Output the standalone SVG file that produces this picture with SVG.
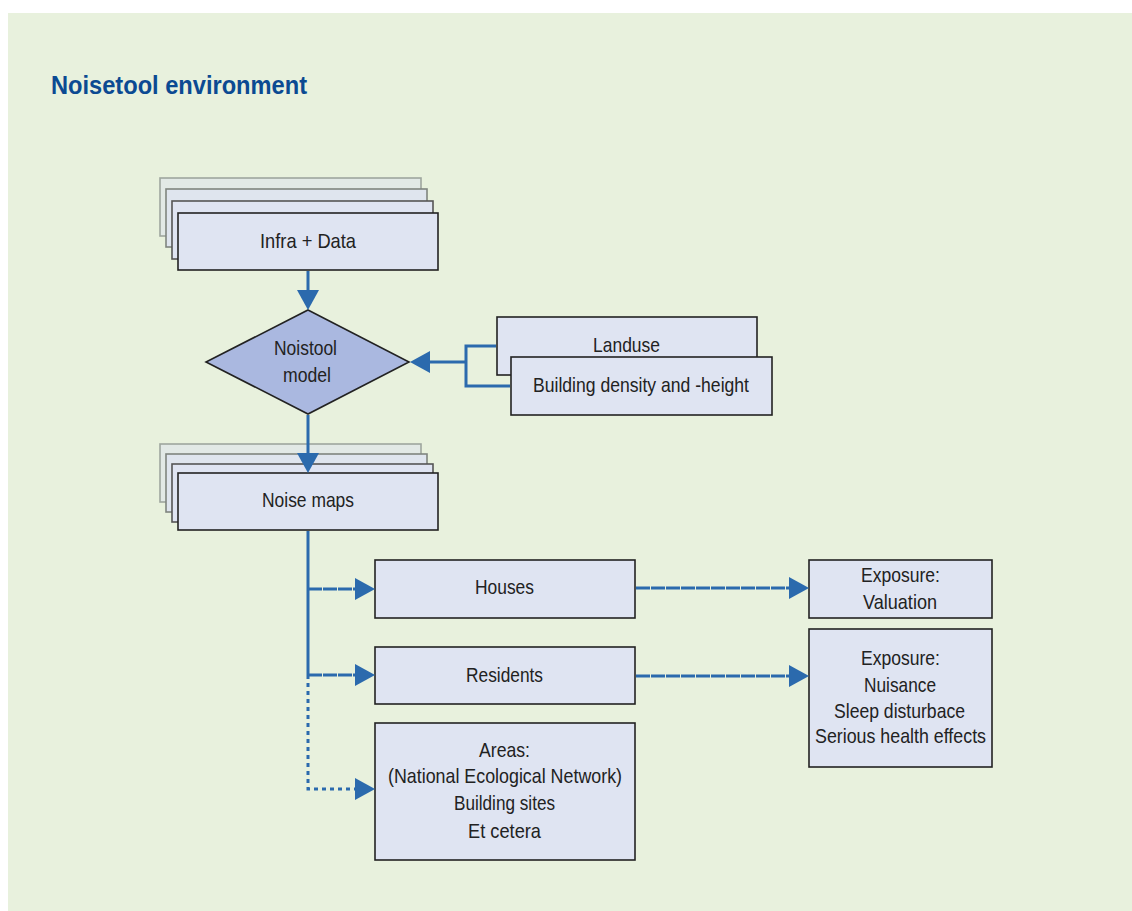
<svg xmlns="http://www.w3.org/2000/svg" width="1132" height="911" viewBox="0 0 1132 911">
<defs>
<style>
.bg{fill:#e8f1dd}
.box{fill:#dfe4f2;stroke:#222;stroke-width:1.6}
.b1{fill:#e2e9e6;stroke:#9ea69e;stroke-width:1.6}
.b2{fill:#dfe5ee;stroke:#7f857f;stroke-width:1.6}
.b3{fill:#dfe4f2;stroke:#555;stroke-width:1.6}
.dia{fill:#aab8e0;stroke:#222;stroke-width:1.6}
.t{font-family:"Liberation Sans",Arial,sans-serif;font-size:21px;fill:#222;text-anchor:middle}
.title{font-family:"Liberation Sans",Arial,sans-serif;font-size:26px;font-weight:bold;fill:#0b4a92}
.c{fill:none;stroke:#2b6aad;stroke-width:3}
.dash{stroke-dasharray:14 1}
.dot{stroke-dasharray:4 4}
</style>
<marker id="ah" viewBox="0 0 20 22" refX="0" refY="11" markerWidth="20" markerHeight="22" markerUnits="userSpaceOnUse" orient="auto">
<path d="M0,0 L20,11 L0,22 Z" fill="#2b6aad"/>
</marker>
</defs>
<rect class="bg" x="8" y="13" width="1124" height="898"/>
<text class="title" x="51" y="94" textLength="256" lengthAdjust="spacingAndGlyphs">Noisetool environment</text>

<g id="infra-data">
<rect class="b1" x="160" y="178" width="261" height="58"/>
<rect class="b2" x="166" y="189" width="261" height="58"/>
<rect class="b3" x="172" y="201" width="261" height="58"/>
<rect class="box" x="178" y="213" width="260" height="57"/>
<text class="t" x="308" y="248" textLength="96" lengthAdjust="spacingAndGlyphs">Infra + Data</text>
</g>

<g id="noistool-model">
<polygon class="dia" points="308,310 409,362 308,414 206,362"/>
<text class="t" x="305.5" y="355" textLength="63" lengthAdjust="spacingAndGlyphs">Noistool</text>
<text class="t" x="307" y="382" textLength="48" lengthAdjust="spacingAndGlyphs">model</text>
</g>

<g id="landuse">
<rect class="box" x="497" y="317" width="260" height="58"/>
<text class="t" x="626.5" y="352" textLength="67" lengthAdjust="spacingAndGlyphs">Landuse</text>
</g>

<g id="building-density">
<rect class="box" x="511" y="357" width="261" height="58"/>
<text class="t" x="641" y="392" textLength="216" lengthAdjust="spacingAndGlyphs">Building density and -height</text>
</g>

<g id="noise-maps">
<rect class="b1" x="160" y="444" width="261" height="58"/>
<rect class="b2" x="166" y="454" width="261" height="58"/>
<rect class="b3" x="172" y="464" width="261" height="58"/>
<rect class="box" x="178" y="473" width="260" height="57"/>
<text class="t" x="308" y="507" textLength="92" lengthAdjust="spacingAndGlyphs">Noise maps</text>
</g>

<g id="houses">
<rect class="box" x="375" y="560" width="260" height="58"/>
<text class="t" x="504.5" y="594" textLength="59" lengthAdjust="spacingAndGlyphs">Houses</text>
</g>

<g id="residents">
<rect class="box" x="375" y="647" width="260" height="57"/>
<text class="t" x="504.5" y="682" textLength="77" lengthAdjust="spacingAndGlyphs">Residents</text>
</g>

<g id="areas">
<rect class="box" x="375" y="723" width="260" height="137"/>
<text class="t" x="504.5" y="757" textLength="51" lengthAdjust="spacingAndGlyphs">Areas:</text>
<text class="t" x="505" y="783" textLength="234" lengthAdjust="spacingAndGlyphs">(National Ecological Network)</text>
<text class="t" x="504.5" y="810" textLength="101" lengthAdjust="spacingAndGlyphs">Building sites</text>
<text class="t" x="504.5" y="838" textLength="73" lengthAdjust="spacingAndGlyphs">Et cetera</text>
</g>

<g id="exposure-valuation">
<rect class="box" x="809" y="560" width="183" height="58"/>
<text class="t" x="900.5" y="582" textLength="79" lengthAdjust="spacingAndGlyphs">Exposure:</text>
<text class="t" x="900" y="609" textLength="74" lengthAdjust="spacingAndGlyphs">Valuation</text>
</g>

<g id="exposure-nuisance">
<rect class="box" x="809" y="629" width="183" height="138"/>
<text class="t" x="900.5" y="665" textLength="79" lengthAdjust="spacingAndGlyphs">Exposure:</text>
<text class="t" x="900" y="692" textLength="72" lengthAdjust="spacingAndGlyphs">Nuisance</text>
<text class="t" x="899.5" y="718" textLength="131" lengthAdjust="spacingAndGlyphs">Sleep disturbace</text>
<text class="t" x="900.5" y="743" textLength="171" lengthAdjust="spacingAndGlyphs">Serious health effects</text>
</g>

<g id="connectors">
<path class="c" d="M308,271 V290" marker-end="url(#ah)"/>
<path class="c" d="M308,415 V453" marker-end="url(#ah)"/>
<path class="c" d="M496,346 H466 V386 H510 M466,362 H430" marker-end="url(#ah)"/>
<path class="c" d="M308,531 V675"/>
<path class="c dash" d="M308,589 H355" marker-end="url(#ah)"/>
<path class="c dash" d="M308,675 H355" marker-end="url(#ah)"/>
<path class="c dot" d="M308,675 V789 H355" marker-end="url(#ah)"/>
<path class="c dash" d="M636,588 H789" marker-end="url(#ah)"/>
<path class="c dash" d="M636,676 H789" marker-end="url(#ah)"/>
</g>
</svg>
